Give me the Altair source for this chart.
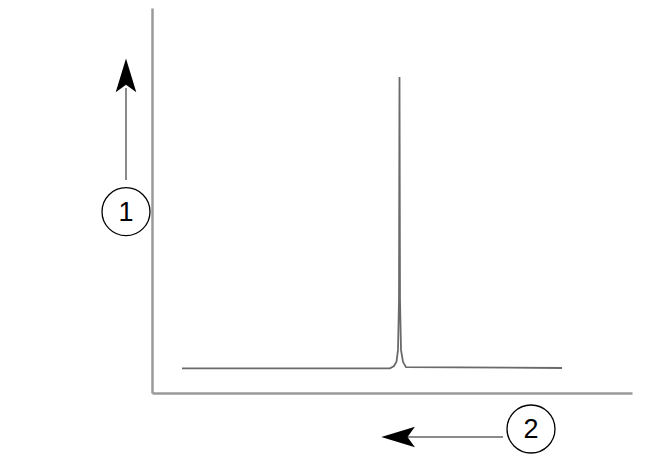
import altair as alt
import pandas as pd

# Spectrum (arbitrary units): position along axis and intensity
spec_x = [1.5, 11.9, 12.1, 12.225, 12.3, 12.35, 12.375, 12.4, 12.45, 12.55, 12.7, 20.5]
spec_y = [6.4, 6.4, 7.0, 8.1, 11.2, 24.2, 82.1, 24.2, 11.2, 8.1, 6.7, 6.5]

# Annotation arrows (shafts) and heads, in the same units
shaft_x = [-1.3, 17.55]
shaft_y = [55.3, -11.43]
shaft_x2 = [-1.3, 12.7]
shaft_y2 = [79.2, -11.43]

head_up = {"x": -1.3, "y": 82.0}
head_left = {"x": 12.4, "y": -11.43}

# Circled labels
label_x = [-1.3, 18.95]
label_y = [47.1, -9.35]
label_text = ["1", "2"]

spec = pd.DataFrame({"x": spec_x, "y": spec_y, "i": list(range(len(spec_x)))})
shafts = pd.DataFrame({"x": shaft_x, "y": shaft_y, "x2": shaft_x2, "y2": shaft_y2})
labels = pd.DataFrame({"x": label_x, "y": label_y, "t": label_text})
hu = pd.DataFrame([head_up])
hl = pd.DataFrame([head_left])

xs = alt.Scale(domain=[0, 24], nice=False, zero=False)
ys = alt.Scale(domain=[0, 100], nice=False, zero=False)

ax = dict(ticks=False, labels=False, grid=False, title="",
          domainColor="#9a9a9a", domainWidth=2.5)

line = alt.Chart(spec).mark_line(color="#6a6a6a", strokeWidth=1.8, clip=False).encode(
    x=alt.X("x:Q", scale=xs, axis=alt.Axis(**ax)),
    y=alt.Y("y:Q", scale=ys, axis=alt.Axis(**ax)),
    order="i:Q",
)

rules = alt.Chart(shafts).mark_rule(color="#8a8a8a", strokeWidth=2, clip=False).encode(
    x=alt.X("x:Q", scale=xs), y=alt.Y("y:Q", scale=ys),
    x2="x2:Q", y2="y2:Q",
)

up_path = "M0,-1 L0.55,0.8 L0,0.4 L-0.55,0.8 Z"
left_path = "M-1,0 L0.8,-0.55 L0.4,0 L0.8,0.55 Z"

head1 = alt.Chart(hu).mark_point(shape=up_path, filled=True, color="black",
                                 size=1400, opacity=1, clip=False).encode(
    x=alt.X("x:Q", scale=xs), y=alt.Y("y:Q", scale=ys))
head2 = alt.Chart(hl).mark_point(shape=left_path, filled=True, color="black",
                                 size=1400, opacity=1, clip=False).encode(
    x=alt.X("x:Q", scale=xs), y=alt.Y("y:Q", scale=ys))

circles = alt.Chart(labels).mark_point(shape="circle", filled=False, color="black",
                                       strokeWidth=1.3, size=2300, opacity=1,
                                       clip=False).encode(
    x=alt.X("x:Q", scale=xs), y=alt.Y("y:Q", scale=ys))

texts = alt.Chart(labels).mark_text(fontSize=27, font="Liberation Sans", color="black",
                                    align="center", baseline="middle", dy=1,
                                    clip=False).encode(
    x=alt.X("x:Q", scale=xs), y=alt.Y("y:Q", scale=ys), text="t:N")

chart = alt.layer(line, rules, head1, head2, circles, texts).properties(
    width=480, height=385,
    autosize=alt.AutoSizeParams(type="none"),
    padding={"left": 144, "top": 0, "right": 27, "bottom": 61},
    background="white",
).configure_view(strokeWidth=0)

chart.save("out.html", embed_options={"renderer": "svg", "actions": False})
